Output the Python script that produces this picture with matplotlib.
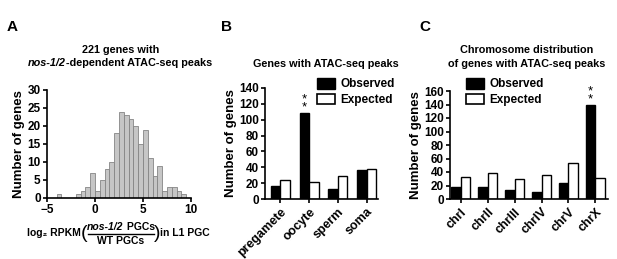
import numpy as np
import matplotlib
matplotlib.use("Agg")
import matplotlib.pyplot as plt
from matplotlib.patches import Patch
from matplotlib.lines import Line2D

plt.rcParams['font.family'] = ['Liberation Sans', 'DejaVu Sans']
plt.rcParams['font.weight'] = 'bold'
plt.rcParams['axes.labelweight'] = 'bold'

# ---- data ----
hist_bin_left = [-4.0, -2.0, -1.5, -1.0, -0.5, 0.0, 0.5, 1.0, 1.5, 2.0, 2.5, 3.0, 3.5, 4.0,
                 4.5, 5.0, 5.5, 6.0, 6.5, 7.0, 7.5, 8.0, 8.5, 9.0]
hist_counts = [1, 1, 2, 3, 7, 2, 5, 8, 10, 18, 24, 23, 22, 20, 15, 19, 11, 6, 9, 2, 3, 3, 2, 1]
bin_width = 0.5

b_categories = ['pregamete', 'oocyte', 'sperm', 'soma']
b_observed = [16, 108, 13, 36]
b_expected = [24, 22, 29, 38]

c_categories = ['chrI', 'chrII', 'chrIII', 'chrIV', 'chrV', 'chrX']
c_observed = [18, 18, 13, 11, 23, 139]
c_expected = [32, 38, 29, 36, 54, 31]

W, H = 617, 259
fig = plt.figure(figsize=(W / 100, H / 100), dpi=100)
renderer = fig.canvas.get_renderer()


def ax_px(left, top, right, bottom):
    return fig.add_axes([left / W, 1 - bottom / H, (right - left) / W, (bottom - top) / H])


def fx(px):
    return px / W


def fy(py):
    return 1 - py / H


tick_fs = 8.5
lab_fs = 9.5
title_fs = 7.8
cat_fs = 9


def style(ax):
    for s in ['top', 'right']:
        ax.spines[s].set_visible(False)
    for s in ['left', 'bottom']:
        ax.spines[s].set_linewidth(1.2)
    ax.tick_params(direction='out', length=3, width=1.2, labelsize=tick_fs, pad=1.5)
    for lab in ax.get_xticklabels() + ax.get_yticklabels():
        lab.set_fontweight('bold')


def text_width_px(s, **kw):
    t = fig.text(0, 0, s, **kw)
    w = t.get_window_extent(renderer=renderer).width
    t.remove()
    return w


def run_text(parts, cx, cy, fontsize):
    """Place a sequence of (string, style) pieces on one line centred at cx (px)."""
    widths = [text_width_px(s, fontsize=fontsize, fontweight='bold', fontstyle=st)
              for s, st in parts]
    x = cx - sum(widths) / 2
    for (s, st), w in zip(parts, widths):
        fig.text(fx(x), fy(cy), s, ha='left', va='center', fontsize=fontsize,
                 fontweight='bold', fontstyle=st)
        x += w


def cat_labels(ax, labels):
    ax.set_xticklabels(labels, rotation=45, ha='right', va='top', rotation_mode='anchor')
    for lab in ax.get_xticklabels():
        lab.set_fontsize(cat_fs)
        lab.set_fontweight('bold')
    ax.tick_params(axis='x', pad=2)


# ---- Panel A ----
axA = ax_px(47, 90, 191, 198)
axA.bar(hist_bin_left, hist_counts, width=bin_width, align='edge',
        color='#c6c6c6', edgecolor='#858585', linewidth=0.6)
axA.set_xlim(-5, 10)
axA.set_ylim(0, 30)
axA.set_xticks([-5, 0, 5, 10])
axA.set_xticklabels(['\u22125', '0', '5', '10'])
axA.set_yticks([0, 5, 10, 15, 20, 25, 30])
axA.set_ylabel('Number of genes', fontsize=lab_fs, labelpad=2)
style(axA)

run_text([('221 genes with', 'normal')], 121, 50, title_fs)
run_text([('nos-1/2', 'italic'), ('-dependent ATAC-seq peaks', 'normal')], 120, 63, title_fs)

# x label of A (composite)
xl_fs = 7.5
fig.text(fx(27), fy(233), 'log\u2082 RPKM', ha='left', va='center',
         fontsize=xl_fs, fontweight='bold')
fig.text(fx(84), fy(234), '(', ha='center', va='center', fontsize=14, fontweight='normal')
fig.text(fx(157), fy(234), ')', ha='center', va='center', fontsize=14, fontweight='normal')
run_text([('nos-1/2', 'italic'), (' PGCs', 'normal')], 121, 227, xl_fs)
fig.text(fx(121), fy(241), 'WT PGCs', ha='center', va='center', fontsize=xl_fs,
         fontweight='bold')
fig.add_artist(Line2D([fx(88), fx(154)], [fy(234), fy(234)], color='black',
                      linewidth=1.0, transform=fig.transFigure))
fig.text(fx(160), fy(233), 'in L1 PGC', ha='left', va='center', fontsize=xl_fs,
         fontweight='bold')

# ---- Panel B ----
axB = ax_px(265, 88, 378, 199)
xb = np.arange(len(b_categories))
wB = 0.33
axB.bar(xb - wB / 2, b_observed, width=wB, color='black', edgecolor='black', linewidth=1.0)
axB.bar(xb + wB / 2, b_expected, width=wB, color='white', edgecolor='black', linewidth=1.0)
axB.set_xlim(-0.54, 3.40)
axB.set_ylim(0, 140)
axB.set_yticks(range(0, 141, 20))
axB.set_xticks(xb)
axB.set_ylabel('Number of genes', fontsize=lab_fs, labelpad=1)
style(axB)
cat_labels(axB, b_categories)
axB.text(xb[1] - wB / 2, b_observed[1], '*\n*', ha='center', va='bottom',
         fontsize=9.5, linespacing=0.5, fontweight='normal')

handles = [Patch(facecolor='black', edgecolor='black'),
           Patch(facecolor='white', edgecolor='black', linewidth=1.2)]
leg_kw = dict(loc='upper left', frameon=False, fontsize=8.5, handlelength=1.5,
              handleheight=1.0, handletextpad=0.5, labelspacing=0.3, borderpad=0,
              borderaxespad=0)
fig.legend(handles, ['Observed', 'Expected'], bbox_to_anchor=(fx(317), fy(78)), **leg_kw)
fig.text(fx(326), fy(64), 'Genes with ATAC-seq peaks', ha='center', va='center',
         fontsize=title_fs, fontweight='bold')

# ---- Panel C ----
axC = ax_px(450, 91, 608, 199)
xc = np.arange(len(c_categories))
wC = 0.35
axC.bar(xc - wC / 2, c_observed, width=wC, color='black', edgecolor='black', linewidth=1.0)
axC.bar(xc + wC / 2, c_expected, width=wC, color='white', edgecolor='black', linewidth=1.0)
axC.set_xlim(-0.40, 5.47)
axC.set_ylim(0, 160)
axC.set_yticks(range(0, 161, 20))
axC.set_xticks(xc)
axC.set_ylabel('Number of genes', fontsize=lab_fs, labelpad=1)
style(axC)
cat_labels(axC, c_categories)
axC.text(xc[5] - wC / 2, c_observed[5], '*\n*', ha='center', va='bottom',
         fontsize=9.5, linespacing=0.5, fontweight='normal')
fig.legend(handles, ['Observed', 'Expected'], bbox_to_anchor=(fx(466), fy(78)), **leg_kw)
fig.text(fx(527), fy(50), 'Chromosome distribution', ha='center', va='center',
         fontsize=title_fs, fontweight='bold')
fig.text(fx(527), fy(64), 'of genes with ATAC-seq peaks', ha='center', va='center',
         fontsize=title_fs, fontweight='bold')

# panel letters
for x, s in [(7, 'A'), (221, 'B'), (419, 'C')]:
    fig.text(fx(x), fy(27), s, ha='left', va='center', fontsize=11, fontweight='bold')

fig.savefig('out.png', dpi=100)
